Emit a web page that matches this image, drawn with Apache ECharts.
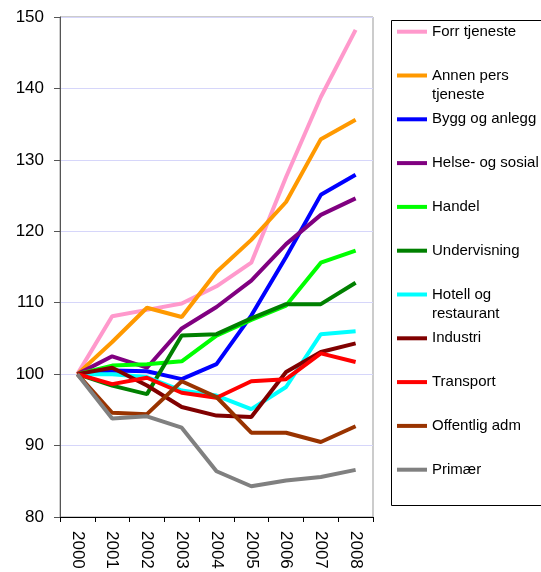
<!DOCTYPE html>
<html>
<head>
<meta charset="utf-8">
<script src="https://cdn.jsdelivr.net/npm/echarts@6/dist/echarts.min.js"></script>
<style>
html,body{margin:0;padding:0;background:#fff;}
#main{width:541px;height:572px;}
</style>
</head>
<body>
<div id="main"></div>
<script>
var years = ['2000','2001','2002','2003','2004','2005','2006','2007','2008'];
var yTicks = { min: 80, max: 150, interval: 10 };

var seriesNames = ['Forr tjeneste','Annen pers tjeneste','Bygg og anlegg','Helse- og sosial','Handel','Undervisning','Hotell og restaurant','Industri','Transport','Offentlig adm','Primær'];
var legendLabels = ['Forr tjeneste','Annen pers\ntjeneste','Bygg og anlegg','Helse- og sosial','Handel','Undervisning','Hotell og\nrestaurant','Industri','Transport','Offentlig adm','Primær'];

var forrTjeneste  = [100,108.1,109.0,109.9,112.3,115.6,127.6,138.8,148.2];
var annenPers     = [100,104.5,109.3,108.0,114.3,118.8,124.1,132.9,135.6];
var byggAnlegg    = [100,100.5,100.4,99.3,101.4,108.2,116.4,125.1,127.9];
var helseSosial   = [100,102.5,100.9,106.4,109.4,113.1,118.2,122.3,124.6];
var handel        = [100,101.2,101.4,101.8,105.4,107.6,109.6,115.6,117.3];
var undervisning  = [100,98.4,97.2,105.4,105.6,107.8,109.8,109.8,112.8];
var hotell        = [100,100.0,99.6,97.7,97.0,95.1,98.2,105.6,106.0];
var industri      = [100,100.9,98.4,95.4,94.2,94.0,100.3,103.1,104.3];
var transport     = [100,98.6,99.5,97.4,96.7,99.0,99.3,102.9,101.7];
var offentligAdm  = [100,94.6,94.4,99.0,96.8,91.8,91.8,90.5,92.7];
var primaer       = [100,93.8,94.1,92.5,86.4,84.3,85.1,85.6,86.6];

var allData = [forrTjeneste, annenPers, byggAnlegg, helseSosial, handel, undervisning, hotell, industri, transport, offentligAdm, primaer];
var colors = ['#FF99CC','#FF9900','#0000FF','#800080','#00FF00','#008000','#00FFFF','#800000','#FF0000','#993300','#808080'];

var FONT = "'Liberation Sans', Arial, sans-serif";
var chart = echarts.init(document.getElementById('main'), null, {renderer:'canvas'});

var series = seriesNames.map(function(n, i){
  return {
    name: n, type: 'line', data: allData[i],
    symbol: 'none', smooth: false,
    lineStyle: { color: colors[i], width: 4 },
    itemStyle: { color: colors[i] },
    emphasis: { disabled: true },
    animation: false
  };
});

var L = 19;
var legends = seriesNames.map(function(n, i){
  var yc = 31.7 + 43.8 * i;
  var twoLine = legendLabels[i].indexOf('\n') >= 0;
  return {
    data: [n],
    orient: 'vertical',
    left: 397,
    top: twoLine ? yc - 1.5 * L : yc - L / 2,
    padding: 0,
    icon: 'rect',
    itemWidth: 30,
    itemHeight: 4,
    formatter: function(){ return twoLine ? '\u00a0\n' + legendLabels[i] : legendLabels[i]; },
    textStyle: { fontFamily: FONT, fontSize: 15, color: '#000', lineHeight: L }
  };
});

chart.setOption({
  animation: false,
  backgroundColor: '#fff',
  color: colors,
  grid: { left: 60, right: 168, top: 17, bottom: 55, show: true, borderColor: '#999', borderWidth: 1, containLabel: false },
  legend: legends,
  graphic: [{
    type: 'rect', left: 389, top: 18, shape: { width: 160, height: 485 },
    style: { fill: 'none', stroke: '#000', lineWidth: 1 }, silent: true
  }],
  xAxis: {
    type: 'category', data: years, boundaryGap: true,
    axisLine: { lineStyle: { color: '#000', width: 1 } },
    axisTick: { show: true, length: 5, inside: false, alignWithLabel: false, lineStyle: { color: '#000' } },
    axisLabel: { rotate: -90, margin: 14, fontFamily: FONT, fontSize: 17, color: '#000' },
    splitLine: { show: false }
  },
  yAxis: {
    type: 'value', min: yTicks.min, max: yTicks.max, interval: yTicks.interval,
    axisLine: { show: true, lineStyle: { color: '#555', width: 1 } },
    axisTick: { show: true, length: 6, lineStyle: { color: '#555' } },
    axisLabel: { margin: 16, fontFamily: FONT, fontSize: 17, color: '#000' },
    splitLine: { show: true, lineStyle: { color: '#d6d6fa', width: 1 } }
  },
  series: series
});
</script>
</body>
</html>
